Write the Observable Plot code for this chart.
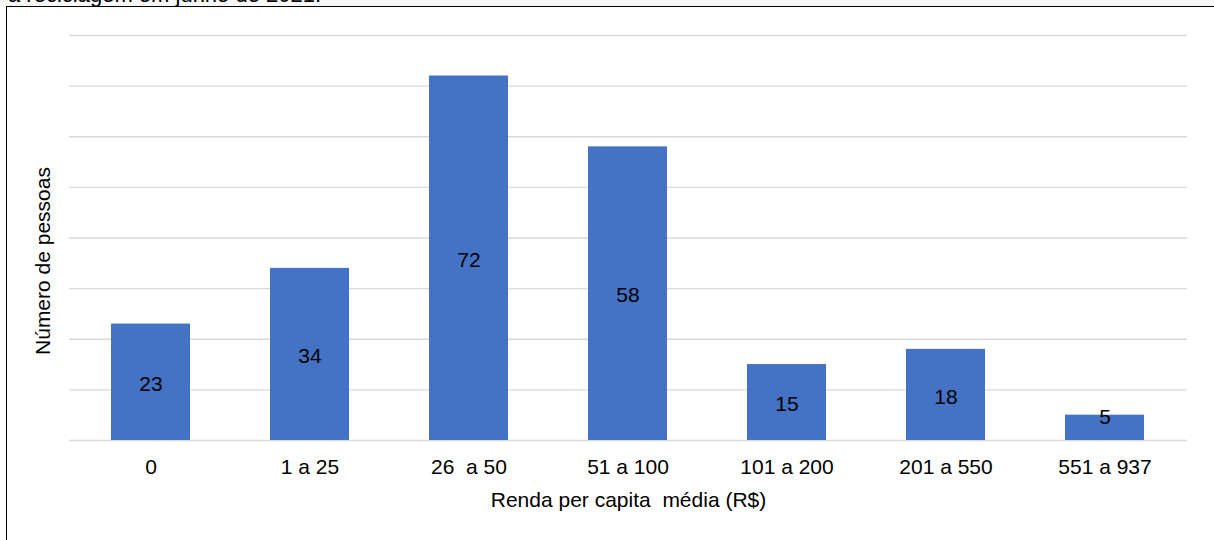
<!DOCTYPE html>
<html>
<head>
<meta charset="utf-8">
<script src="https://cdn.jsdelivr.net/npm/d3@7"></script>
<script src="https://cdn.jsdelivr.net/npm/@observablehq/plot@0.6"></script>
<style>
  html, body { margin: 0; padding: 0; background: #fff; overflow: hidden; width: 1214px; height: 540px; }
  #strip { position: absolute; left: 0; top: 0; width: 1214px; height: 6px; background: #f8f8f8; }
  #title { position: absolute; top: -18px; left: 8px; font: 22px "Liberation Sans", Arial, sans-serif; line-height: 26px; color: #000; white-space: nowrap; }
  #box { position: absolute; left: 6px; top: 6px; width: 1230px; height: 560px; border: 1.6px solid #000; background: #fff; }
  #chart { position: absolute; left: 0; top: 0; }
</style>
</head>
<body>
<div id="strip"></div>
<div id="title">a reciclagem em junho de 2021.</div>
<div id="box"></div>
<div id="chart"></div>
<script>
const categories = ["0", "1 a 25", "26  a 50", "51 a 100", "101 a 200", "201 a 550", "551 a 937"];
const values = [23, 34, 72, 58, 15, 18, 5];
const gridTicks = [0, 10, 20, 30, 40, 50, 60, 70, 80];
const xTitle = "Renda per capita  média (R$)";
const yTitle = "Número de pessoas";

const data = categories.map((c, i) => ({cat: c, v: values[i]}));
const FONT = '"Liberation Sans", Arial, sans-serif';

const chart = Plot.plot({
  width: 1214,
  height: 540,
  marginLeft: 69,
  marginRight: 27,
  marginTop: 35,
  marginBottom: 100,
  style: {fontFamily: FONT, fontSize: "21px", color: "#000", background: "transparent"},
  x: {domain: categories, paddingInner: 0.503, paddingOuter: 0.2515, align: 0.5},
  y: {domain: [0, 80]},
  marks: [
    Plot.gridY(gridTicks, {stroke: "#d9d9d9", strokeOpacity: 1, strokeWidth: 1.3}),
    Plot.barY(data, {x: "cat", y: "v", fill: "#4472c4"}),
    Plot.text(data, {x: "cat", y: d => Math.max(d.v / 2, 4.9), text: d => String(d.v), fill: "#000", fontSize: 21, dy: 2}),
    Plot.axisX({tickSize: 0, tickPadding: 19, fontSize: 21, label: null}),
    Plot.axisY({ticks: [], tickSize: 0, label: null}),
    Plot.text([xTitle], {frameAnchor: "bottom", text: d => d, fontSize: 21, fill: "#000", lineAnchor: "middle", dy: 60}),
    Plot.text([yTitle], {frameAnchor: "left", text: d => d, fontSize: 21, fill: "#000", rotate: -90, textAnchor: "middle", lineAnchor: "top", dx: -34, dy: 23})
  ]
});
document.getElementById("chart").appendChild(chart);
</script>
</body>
</html>
